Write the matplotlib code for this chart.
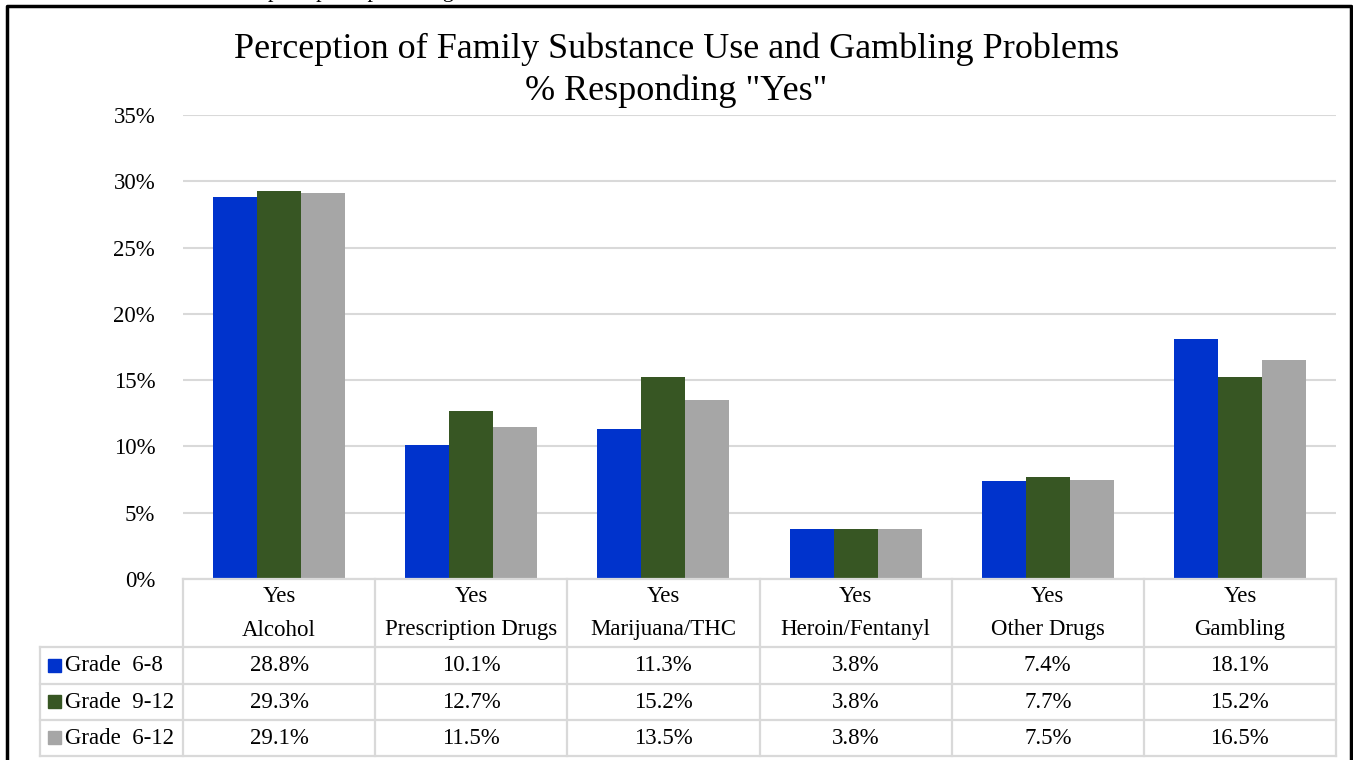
import matplotlib.pyplot as plt
import numpy as np

plt.rcParams['font.family'] = ['Liberation Serif', 'DejaVu Serif']

categories = ["Alcohol", "Prescription Drugs", "Marijuana/THC",
              "Heroin/Fentanyl", "Other Drugs", "Gambling"]
series_names = ["Grade  6-8", "Grade  9-12", "Grade  6-12"]
grade_6_8 = [28.8, 10.1, 11.3, 3.8, 7.4, 18.1]
grade_9_12 = [29.3, 12.7, 15.2, 3.8, 7.7, 15.2]
grade_6_12 = [29.1, 11.5, 13.5, 3.8, 7.5, 16.5]
colors = ["#0033CC", "#375623", "#A6A6A6"]
yticks = [0, 5, 10, 15, 20, 25, 30, 35]

W, H = 1353, 760
fig = plt.figure(figsize=(W / 100, H / 100), dpi=100)


def fx(px):
    return px / W


def fy(py):
    return 1 - py / H


# plot area in pixel terms
left, right, top, bottom = 183, 1336, 115, 579
ax = fig.add_axes([fx(left), fy(bottom), fx(right - left), (bottom - top) / H])

n = len(categories)
x = np.arange(n)
width = 0.229
for i, vals in enumerate([grade_6_8, grade_9_12, grade_6_12]):
    ax.bar(x + (i - 1) * width, vals, width, color=colors[i], zorder=3)

ax.set_xlim(-0.5, n - 0.5)
ax.set_ylim(0, 35)
ax.set_yticks(yticks)
ax.set_yticklabels([f"{t}%" for t in yticks], fontsize=16.5)
ax.set_xticks([])
ax.tick_params(axis='y', length=0, pad=20)
ax.grid(axis='y', color='#D9D9D9', linewidth=1.5, zorder=0)
for s in ax.spines.values():
    s.set_visible(False)

fig.text(0.5, fy(49), "Perception of Family Substance Use and Gambling Problems",
         ha='center', va='center', fontsize=26)
fig.text(0.5, fy(91), '% Responding "Yes"', ha='center', va='center', fontsize=26)

# data table
line_c = '#D9D9D9'
col_edges = [left + (right - left) * k / n for k in range(n + 1)]
row_edges = [579, 647, 684, 720, 756]
leg_left = 40


def hline(y, x0, x1):
    fig.add_artist(plt.Line2D([fx(x0), fx(x1)], [fy(y), fy(y)], color=line_c, lw=1.6))


def vline(xp, y0, y1):
    fig.add_artist(plt.Line2D([fx(xp), fx(xp)], [fy(y0), fy(y1)], color=line_c, lw=1.6))


hline(row_edges[0], left, right)
for y in row_edges[1:]:
    hline(y, leg_left, right)
for xp in col_edges:
    vline(xp, row_edges[0], row_edges[-1])
vline(leg_left, row_edges[1], row_edges[-1])

fs = 16.5
for k, cat in enumerate(categories):
    cx = (col_edges[k] + col_edges[k + 1]) / 2
    fig.text(fx(cx), fy(597), "Yes", ha='center', va='center', fontsize=fs)
    fig.text(fx(cx), fy(630), cat, ha='center', va='center', fontsize=fs)

for r, vals in enumerate([grade_6_8, grade_9_12, grade_6_12]):
    cy = (row_edges[r + 1] + row_edges[r + 2]) / 2
    fig.add_artist(plt.Rectangle((fx(48), fy(cy + 6)), fx(13), 13 / H,
                                 color=colors[r]))
    fig.text(fx(65), fy(cy), series_names[r], ha='left', va='center', fontsize=fs)
    for k, v in enumerate(vals):
        cx = (col_edges[k] + col_edges[k + 1]) / 2
        fig.text(fx(cx), fy(cy), f"{v:.1f}%", ha='center', va='center', fontsize=fs)

# outer frame
fig.add_artist(plt.Line2D([fx(7), fx(7), fx(1351), fx(1351)],
                          [0, fy(6), fy(6), 0], color='black', lw=2.5))
fig.text(fx(370), fy(-8), "perception percentages", ha='center', va='center',
         fontsize=16)

fig.savefig("out.png", dpi=100)
